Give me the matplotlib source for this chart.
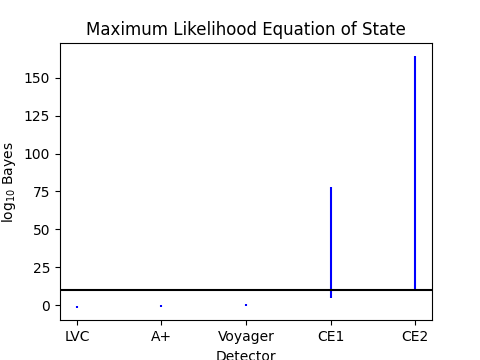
import matplotlib
matplotlib.use("Agg")
import matplotlib.pyplot as plt

detectors = ["LVC", "A+", "Voyager", "CE1", "CE2"]
# range of log10 Bayes factors for each detector
bayes_min = [-1.8, -1.1, -0.5, 4.6, 10.4]
bayes_max = [-0.5, 0.2, 0.8, 78.0, 164.6]
threshold = 10

fig, ax = plt.subplots(figsize=(4.8, 3.6), dpi=100)
pos = range(len(detectors))
ax.vlines(pos, bayes_min, bayes_max, colors="blue", linewidth=1.5)
ax.axhline(threshold, color="k", linewidth=1.5)
ax.set_xticks(list(pos))
ax.set_xticklabels(detectors)
ax.set_xlabel("Detector")
ax.set_ylabel(r"log$_{10}$ Bayes")
ax.set_title("Maximum Likelihood Equation of State")
fig.savefig("out.png")
